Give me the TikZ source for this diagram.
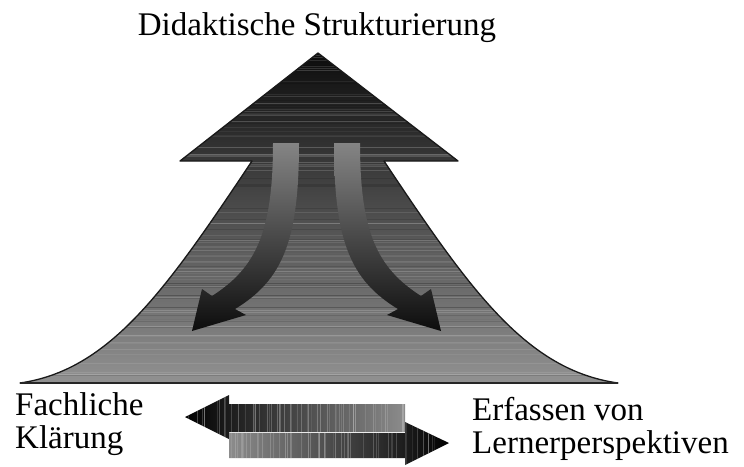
\documentclass[tikz,border=0pt]{standalone}
\usepackage{fontspec}
\setmainfont{Liberation Serif}
\usetikzlibrary{calc}

% outline of the large upward arrow (head plus flaring shaft)
\newcommand\bigarrowpath{%
  (318,53) -- (458,161) -- (384,161)
  .. controls (470,290) and (526,370) .. (618,383)
  -- (20,383)
  .. controls (110,370) and (166,290) .. (252,161)
  -- (180,161) -- cycle}
% one curved arrow bending outwards to the left
\newcommand\curvedarrowpath{%
  (273,143) .. controls (273,232) and (256,268) .. (212,296)
  -- (202,289) -- (192,331) -- (246,315) -- (235,309)
  .. controls (283,280) and (299,240) .. (299,143) -- cycle}
\newcommand\leftpointer{%
  (185,417) -- (229,395) -- (229,404) -- (405,404) -- (405,432)
  -- (229,432) -- (229,439) -- cycle}
\newcommand\rightpointer{%
  (229,433) -- (405,433) -- (405,422) -- (449,443) -- (405,465)
  -- (405,458) -- (229,458) -- cycle}

\tikzset{
  label text/.style={font=\fontsize{33}{33}\selectfont, inner sep=0pt},
  streak/.style={line width=0.7pt}
}

\begin{document}
\begin{tikzpicture}[x=1pt,y=-1pt]
\useasboundingbox (0,0) rectangle (744,466);
\fill[white] (0,0) rectangle (744,466);

% --- large arrow: dark at the tip, mid grey at the base
\shade[top color=black!95, middle color=black!68, bottom color=black!43]
  \bigarrowpath;
\begin{scope}
  \clip \bigarrowpath;
  \pgfmathsetseed{11}
  \foreach \i in {1,...,70} {
    \pgfmathsetmacro\yy{55+rnd*328}
    \pgfmathsetmacro\op{0.06+0.14*rnd}
    \draw[streak, white, opacity=\op] (0,\yy) -- (744,\yy);
  }
  \foreach \i in {1,...,40} {
    \pgfmathsetmacro\yy{55+rnd*328}
    \draw[streak, black, opacity=0.12] (0,\yy) -- (744,\yy);
  }
\end{scope}
\draw[black!90, line width=1.3pt, line join=round] \bigarrowpath;
\draw[black!85, line width=2pt] (20,382.5) -- (618,382.5);

% --- the two curved arrows inside the shaft
\shade[top color=black!48, bottom color=black!95] \curvedarrowpath;
\begin{scope}[xshift=633pt, xscale=-1]
  \shade[top color=black!48, bottom color=black!95] \curvedarrowpath;
\end{scope}

% --- double arrow at the bottom
\shade[left color=black, right color=black!45] \leftpointer;
\begin{scope}
  \clip \leftpointer;
  \pgfmathsetseed{5}
  \foreach \i in {1,...,55} {
    \pgfmathsetmacro\xx{185+rnd*220}
    \pgfmathsetmacro\op{0.08+0.2*rnd}
    \draw[streak, white, opacity=\op] (\xx,390) -- (\xx,440);
  }
\end{scope}
\shade[left color=black!45, right color=black] \rightpointer;
\begin{scope}
  \clip \rightpointer;
  \pgfmathsetseed{9}
  \foreach \i in {1,...,55} {
    \pgfmathsetmacro\xx{229+rnd*220}
    \pgfmathsetmacro\op{0.08+0.2*rnd}
    \draw[streak, white, opacity=\op] (\xx,420) -- (\xx,466);
  }
\end{scope}

% --- labels
\node[label text, anchor=base] (title) at (317,35) {Didaktische Strukturierung};
\node[label text, anchor=north west, align=left] (fach) at (15,392.5)
  {Fachliche\\Klärung};
\node[label text, anchor=north west, align=left] (lern) at (472,397.5)
  {Erfassen von\\Lernerperspektiven};
\end{tikzpicture}
\end{document}
